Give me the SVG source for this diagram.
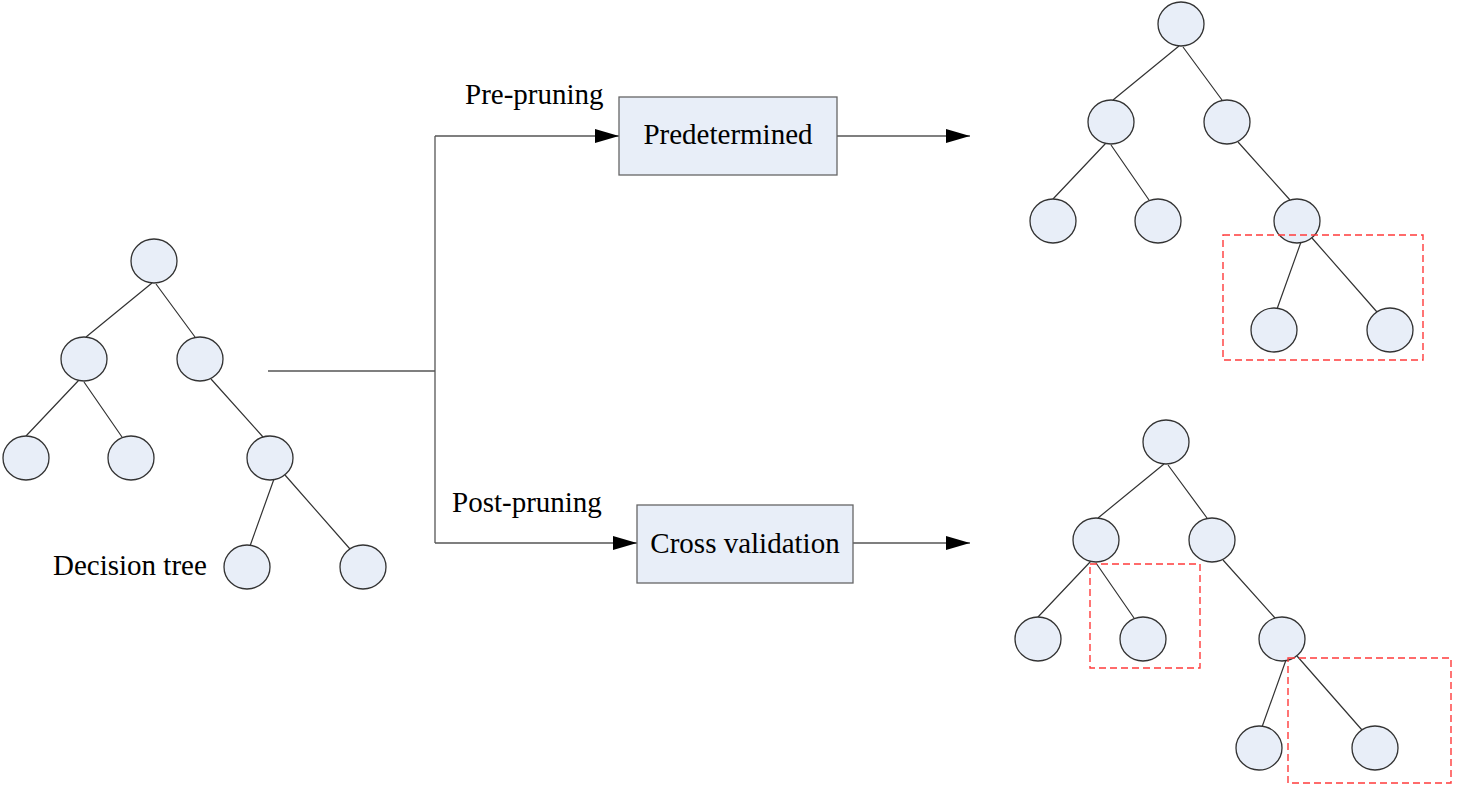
<svg xmlns="http://www.w3.org/2000/svg" width="1457" height="789" viewBox="0 0 1457 789">
<style>
.n{fill:#E8EEF8;stroke:#333;stroke-width:1.3}
.e{stroke:#333;stroke-width:1.2;fill:none}
.c{stroke:#555;stroke-width:1.3;fill:none}
.box{fill:#E8EEF8;stroke:#666;stroke-width:1.3}
.t{font-family:"Liberation Serif","Times New Roman",serif;font-size:29px;fill:#000}
.d{fill:none;stroke:#FF3B3B;stroke-width:1.4;stroke-dasharray:7 4}
</style>
<defs>
<marker id="arr" markerUnits="userSpaceOnUse" markerWidth="24" markerHeight="14" refX="24" refY="7" orient="auto">
<path d="M0,0 L24,7 L0,14 Z" fill="#000"/>
</marker>
<g id="edges">
<path class="e" d="M-2,22 L-68,76 M2,23 L41,76 M-75,119 L-128,175 M-70,121 L-32,176 M57,118 L109,176 M120,218 L96,285 M131,214 L196,288"/>
</g>
</defs>
<rect width="1457" height="789" fill="#fff"/>

<g id="connectors">
<path class="c" d="M268,371 L435,371"/>
<path class="c" d="M435,136 L435,543"/>
<path class="c" d="M435,136 L619,136" marker-end="url(#arr)"/>
<path class="c" d="M435,543 L637,543" marker-end="url(#arr)"/>
<path class="c" d="M837,136 L970,136" marker-end="url(#arr)"/>
<path class="c" d="M853,543 L970,543" marker-end="url(#arr)"/>
<use href="#edges" transform="translate(154,261)"/>
<use href="#edges" transform="translate(1181,24)"/>
<use href="#edges" transform="translate(1166,442)"/>
</g>

<g id="tree-original" transform="translate(154,261)">
<g id="t1-root"><ellipse class="n" cx="0" cy="0" rx="23" ry="22"/></g>
<g id="t1-l2a"><ellipse class="n" cx="-70" cy="98" rx="23" ry="22"/></g>
<g id="t1-l2b"><ellipse class="n" cx="46" cy="98" rx="23" ry="22"/></g>
<g id="t1-l3a"><ellipse class="n" cx="-128" cy="197" rx="23" ry="22"/></g>
<g id="t1-l3b"><ellipse class="n" cx="-23" cy="197" rx="23" ry="22"/></g>
<g id="t1-l3c"><ellipse class="n" cx="116" cy="197" rx="23" ry="22"/></g>
<g id="t1-l4a"><ellipse class="n" cx="93" cy="306" rx="23" ry="22"/></g>
<g id="t1-l4b"><ellipse class="n" cx="209" cy="306" rx="23" ry="22"/></g>
</g>
<g id="label-decision-tree"><text class="t" x="53" y="575">Decision tree</text></g>

<g id="label-pre"><text class="t" x="465" y="104">Pre-pruning</text></g>
<g id="label-post"><text class="t" x="452" y="512">Post-pruning</text></g>

<g id="box-predetermined">
<rect class="box" x="619" y="97" width="218" height="78"/>
<text class="t" x="728" y="144" text-anchor="middle">Predetermined</text>
</g>
<g id="box-cross-validation">
<rect class="box" x="637" y="505" width="216" height="78"/>
<text class="t" x="745" y="553" text-anchor="middle">Cross validation</text>
</g>

<g id="tree-pre" transform="translate(1181,24)">
<g id="t2-root"><ellipse class="n" cx="0" cy="0" rx="23" ry="22"/></g>
<g id="t2-l2a"><ellipse class="n" cx="-70" cy="98" rx="23" ry="22"/></g>
<g id="t2-l2b"><ellipse class="n" cx="46" cy="98" rx="23" ry="22"/></g>
<g id="t2-l3a"><ellipse class="n" cx="-128" cy="197" rx="23" ry="22"/></g>
<g id="t2-l3b"><ellipse class="n" cx="-23" cy="197" rx="23" ry="22"/></g>
<g id="t2-l3c"><ellipse class="n" cx="116" cy="197" rx="23" ry="22"/></g>
<g id="t2-l4a"><ellipse class="n" cx="93" cy="306" rx="23" ry="22"/></g>
<g id="t2-l4b"><ellipse class="n" cx="209" cy="306" rx="23" ry="22"/></g>
</g>
<g id="prune-box-pre"><rect class="d" x="1223" y="235" width="200" height="125"/></g>

<g id="tree-post" transform="translate(1166,442)">
<g id="t3-root"><ellipse class="n" cx="0" cy="0" rx="23" ry="22"/></g>
<g id="t3-l2a"><ellipse class="n" cx="-70" cy="98" rx="23" ry="22"/></g>
<g id="t3-l2b"><ellipse class="n" cx="46" cy="98" rx="23" ry="22"/></g>
<g id="t3-l3a"><ellipse class="n" cx="-128" cy="197" rx="23" ry="22"/></g>
<g id="t3-l3b"><ellipse class="n" cx="-23" cy="197" rx="23" ry="22"/></g>
<g id="t3-l3c"><ellipse class="n" cx="116" cy="197" rx="23" ry="22"/></g>
<g id="t3-l4a"><ellipse class="n" cx="93" cy="306" rx="23" ry="22"/></g>
<g id="t3-l4b"><ellipse class="n" cx="209" cy="306" rx="23" ry="22"/></g>
</g>
<g id="prune-box-post-a"><rect class="d" x="1090" y="564" width="110" height="104"/></g>
<g id="prune-box-post-b"><rect class="d" x="1288" y="658" width="163" height="125"/></g>
</svg>
